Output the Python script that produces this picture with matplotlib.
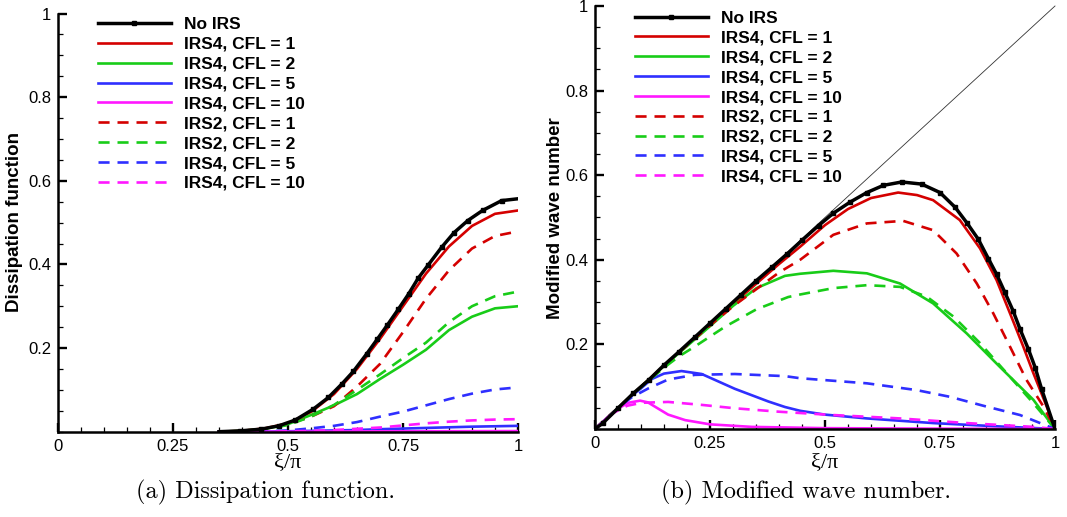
import matplotlib
matplotlib.use("Agg")
import matplotlib.pyplot as plt
from matplotlib.ticker import MultipleLocator, FixedLocator, FixedFormatter

plt.rcParams['font.family'] = ['Liberation Sans', 'DejaVu Sans']

# ---------------- Data: (a) Dissipation function ----------------
diss_noirs_x = [0.35, 0.396, 0.441, 0.48, 0.516, 0.555, 0.588, 0.617, 0.642, 0.671, 0.694,
                0.716, 0.740, 0.762, 0.783, 0.805, 0.834, 0.861, 0.891, 0.923, 0.9645, 1.0]
diss_noirs_y = [0.0, 0.002, 0.006, 0.014, 0.028, 0.054, 0.082, 0.114, 0.144, 0.186, 0.221,
                0.255, 0.293, 0.329, 0.367, 0.399, 0.441, 0.476, 0.505, 0.529, 0.5526, 0.557]

diss_x = [0.35, 0.4, 0.45, 0.5, 0.55, 0.6, 0.65, 0.7, 0.75, 0.8, 0.85, 0.9, 0.95, 1.0]
diss_irs4_cfl1 = [0.0, 0.002, 0.008, 0.020, 0.047, 0.090, 0.150, 0.222, 0.300, 0.378, 0.443, 0.492, 0.521, 0.529]
diss_irs4_cfl2 = [0.0, 0.002, 0.007, 0.018, 0.040, 0.063, 0.090, 0.126, 0.160, 0.196, 0.243, 0.275, 0.295, 0.300]
diss_irs4_cfl5 = [0.0, 0.0, 0.0, 0.001, 0.002, 0.003, 0.004, 0.006, 0.0075, 0.009, 0.0105, 0.012, 0.013, 0.014]
diss_irs4_cfl10 = [0.0, 0.0, 0.0, 0.0, 0.0003, 0.0005, 0.0007, 0.0009, 0.001, 0.0011, 0.0012, 0.0013, 0.0014, 0.0015]
diss_irs2_cfl1 = [0.0, 0.002, 0.007, 0.018, 0.036, 0.061, 0.108, 0.162, 0.238, 0.318, 0.386, 0.438, 0.468, 0.479]
diss_irs2_cfl2 = [0.0, 0.002, 0.006, 0.016, 0.036, 0.064, 0.100, 0.137, 0.176, 0.213, 0.262, 0.300, 0.324, 0.335]
diss_irs4d_cfl5 = [0.0, 0.0, 0.001, 0.003, 0.008, 0.014, 0.023, 0.036, 0.048, 0.063, 0.078, 0.091, 0.101, 0.106]
diss_irs4d_cfl10 = [0.0, 0.0, 0.0, 0.001, 0.002, 0.004, 0.007, 0.010, 0.015, 0.020, 0.024, 0.027, 0.029, 0.030]

# ---------------- Data: (b) Modified wave number ----------------
mwn_noirs_x = [0.0, 0.0167, 0.05, 0.083, 0.117, 0.15, 0.183, 0.217, 0.25, 0.284, 0.317, 0.351,
               0.384, 0.418, 0.451, 0.486, 0.518, 0.554, 0.591, 0.627, 0.667, 0.710, 0.75,
               0.783, 0.808, 0.833, 0.855, 0.873, 0.891, 0.909, 0.924, 0.942, 0.957, 0.971, 1.0]
mwn_noirs_y = [0.0, 0.0135, 0.049, 0.084, 0.116, 0.151, 0.183, 0.217, 0.25, 0.284, 0.317, 0.351,
               0.382, 0.414, 0.447, 0.481, 0.510, 0.536, 0.559, 0.576, 0.584, 0.579, 0.559,
               0.524, 0.488, 0.449, 0.403, 0.366, 0.323, 0.279, 0.236, 0.189, 0.145, 0.094, 0.0]

mwn_irs4_cfl1_x = [0.0, 0.1, 0.2, 0.3, 0.35, 0.4, 0.446, 0.5, 0.55, 0.6, 0.659, 0.7, 0.735,
                   0.793, 0.837, 0.873, 0.902, 0.931, 0.953, 0.982, 1.0]
mwn_irs4_cfl1_y = [0.0, 0.1, 0.199, 0.296, 0.343, 0.39, 0.431, 0.482, 0.520, 0.546, 0.559, 0.553, 0.541,
                   0.494, 0.427, 0.352, 0.274, 0.195, 0.132, 0.053, 0.0]

mwn_irs4_cfl2_x = [0.0, 0.1, 0.15, 0.2, 0.25, 0.3, 0.351, 0.413, 0.446, 0.518, 0.591, 0.663,
                   0.735, 0.808, 0.880, 0.953, 1.0]
mwn_irs4_cfl2_y = [0.0, 0.1, 0.149, 0.196, 0.243, 0.291, 0.333, 0.362, 0.367, 0.374, 0.368, 0.344,
                   0.297, 0.226, 0.147, 0.069, 0.0]

mwn_irs4_cfl5_x = [0.0, 0.08, 0.1, 0.123, 0.15, 0.188, 0.232, 0.304, 0.377, 0.413, 0.446, 0.5,
                   0.591, 0.735, 0.88, 1.0]
mwn_irs4_cfl5_y = [0.0, 0.079, 0.096, 0.118, 0.131, 0.137, 0.130, 0.095, 0.065, 0.052, 0.043, 0.034,
                   0.025, 0.014, 0.006, 0.0]

mwn_irs4_cfl10_x = [0.0, 0.03, 0.05, 0.072, 0.098, 0.115, 0.130, 0.159, 0.196, 0.25, 0.341, 0.5, 0.75, 1.0]
mwn_irs4_cfl10_y = [0.0, 0.03, 0.048, 0.062, 0.067, 0.063, 0.053, 0.034, 0.021, 0.011, 0.005, 0.002, 0.0008, 0.0]

mwn_irs2_cfl1_x = [0.0, 0.1, 0.2, 0.25, 0.3, 0.35, 0.4, 0.446, 0.518, 0.591, 0.670, 0.735, 0.786,
                   0.830, 0.866, 0.902, 0.938, 0.975, 1.0]
mwn_irs2_cfl1_y = [0.0, 0.1, 0.198, 0.245, 0.29, 0.33, 0.37, 0.40, 0.459, 0.486, 0.492, 0.470, 0.415,
                   0.344, 0.273, 0.195, 0.116, 0.053, 0.0]

mwn_irs2_cfl2_x = [0.0, 0.1, 0.15, 0.183, 0.217, 0.283, 0.351, 0.420, 0.446, 0.518, 0.591, 0.663,
                   0.721, 0.779, 0.837, 0.895, 0.953, 1.0]
mwn_irs2_cfl2_y = [0.0, 0.099, 0.145, 0.172, 0.195, 0.242, 0.283, 0.312, 0.318, 0.333, 0.340, 0.336,
                   0.313, 0.266, 0.203, 0.132, 0.061, 0.0]

mwn_irs4d_cfl5_x = [0.0, 0.06, 0.08, 0.116, 0.159, 0.217, 0.304, 0.413, 0.446, 0.591, 0.699, 0.772,
                    0.844, 0.924, 1.0]
mwn_irs4d_cfl5_y = [0.0, 0.059, 0.075, 0.096, 0.117, 0.128, 0.130, 0.125, 0.120, 0.108, 0.092, 0.076,
                    0.055, 0.033, 0.0]

mwn_irs4d_cfl10_x = [0.0, 0.04, 0.07, 0.1015, 0.159, 0.232, 0.304, 0.398, 0.518, 0.663, 0.808, 0.953, 1.0]
mwn_irs4d_cfl10_y = [0.0, 0.038, 0.055, 0.062, 0.064, 0.057, 0.049, 0.041, 0.033, 0.025, 0.014, 0.005, 0.0]

exact_x = [0.0, 1.0]
exact_y = [0.0, 1.0]

labels = ['No IRS', 'IRS4, CFL = 1', 'IRS4, CFL = 2', 'IRS4, CFL = 5', 'IRS4, CFL = 10',
          'IRS2, CFL = 1', 'IRS2, CFL = 2', 'IRS4, CFL = 5', 'IRS4, CFL = 10']
x_ticks = [0, 0.25, 0.5, 0.75, 1]
x_ticklabels = ['0', '0.25', '0.5', '0.75', '1']
y_ticks = [0.2, 0.4, 0.6, 0.8, 1.0]
y_ticklabels = ['0.2', '0.4', '0.6', '0.8', '1']

RED = '#d40000'
GREEN = '#18cc18'
BLUE = '#2f2fff'
MAG = '#ff18ff'
LW = 1.9
DASH = (4.2, 3.0)

W, H = 1067, 517
fig = plt.figure(figsize=(W / 100, H / 100), dpi=100)
ax1 = fig.add_axes([58 / W, 1 - 431.7 / H, 460 / W, 418.2 / H])
ax2 = fig.add_axes([595 / W, 1 - 429 / H, 460 / W, 423 / H])


def style(ax):
    ax.set_xlim(0, 1)
    ax.set_ylim(0, 1)
    for s in ['top', 'right']:
        ax.spines[s].set_visible(False)
    for s in ['left', 'bottom']:
        ax.spines[s].set_linewidth(1.8)
        ax.spines[s].set_zorder(5)
    ax.xaxis.set_major_locator(FixedLocator(x_ticks))
    ax.xaxis.set_major_formatter(FixedFormatter(x_ticklabels))
    ax.yaxis.set_major_locator(FixedLocator(y_ticks))
    ax.yaxis.set_major_formatter(FixedFormatter(y_ticklabels))
    ax.xaxis.set_minor_locator(MultipleLocator(0.05))
    ax.yaxis.set_minor_locator(MultipleLocator(0.05))
    ax.tick_params(which='major', direction='in', length=6.5, width=1.7, labelsize=12,
                   pad=5, top=False, right=False)
    ax.tick_params(which='minor', direction='in', length=3.6, width=0.9, top=False, right=False)
    ax.tick_params(axis='x', which='major', pad=5)
    ax.patch.set_alpha(0)


def draw(ax, nx, ny, curves):
    handles = []
    h, = ax.plot(nx, ny, color='black', lw=2.5, marker='s', markersize=3.2,
                 markevery=list(range(1, len(nx) - 1)), zorder=4)
    handles.append(h)
    for (x, y, c, dashed) in curves:
        if dashed:
            h, = ax.plot(x, y, color=c, lw=LW, dashes=DASH, zorder=3)
        else:
            h, = ax.plot(x, y, color=c, lw=LW, zorder=3)
        handles.append(h)
    return handles


style(ax1)
style(ax2)

h1 = draw(ax1, diss_noirs_x, diss_noirs_y, [
    (diss_x, diss_irs4_cfl1, RED, False),
    (diss_x, diss_irs4_cfl2, GREEN, False),
    (diss_x, diss_irs4_cfl5, BLUE, False),
    (diss_x, diss_irs4_cfl10, MAG, False),
    (diss_x, diss_irs2_cfl1, RED, True),
    (diss_x, diss_irs2_cfl2, GREEN, True),
    (diss_x, diss_irs4d_cfl5, BLUE, True),
    (diss_x, diss_irs4d_cfl10, MAG, True),
])

ax2.plot(exact_x, exact_y, color='#333333', lw=0.6, zorder=2, clip_on=False)
h2 = draw(ax2, mwn_noirs_x, mwn_noirs_y, [
    (mwn_irs4_cfl1_x, mwn_irs4_cfl1_y, RED, False),
    (mwn_irs4_cfl2_x, mwn_irs4_cfl2_y, GREEN, False),
    (mwn_irs4_cfl5_x, mwn_irs4_cfl5_y, BLUE, False),
    (mwn_irs4_cfl10_x, mwn_irs4_cfl10_y, MAG, False),
    (mwn_irs2_cfl1_x, mwn_irs2_cfl1_y, RED, True),
    (mwn_irs2_cfl2_x, mwn_irs2_cfl2_y, GREEN, True),
    (mwn_irs4d_cfl5_x, mwn_irs4d_cfl5_y, BLUE, True),
    (mwn_irs4d_cfl10_x, mwn_irs4d_cfl10_y, MAG, True),
])

leg_kw = dict(loc='upper left', frameon=False, borderpad=0, borderaxespad=0, numpoints=1,
              handlelength=4.2, handletextpad=0.75, labelspacing=0.27,
              prop={'family': 'Liberation Sans', 'weight': 'bold', 'size': 12.5})
fig.legend(h1, labels, bbox_to_anchor=(98 / W, 1 - 17 / H), **leg_kw)
fig.legend(h2, labels, bbox_to_anchor=(635 / W, 1 - 10.5 / H), **leg_kw)

# axis labels
fig.text(15 / W, 1 - 222 / H, 'Dissipation function', rotation=90, fontsize=13.5,
         fontweight='bold', ha='center', va='center')
fig.text(556 / W, 1 - 218 / H, 'Modified wave number', rotation=90, fontsize=13.5,
         fontweight='bold', ha='center', va='center')
fig.text(288 / W, 1 - 463 / H, 'ξ/π', fontsize=16, ha='center', va='center',
         family=['Liberation Serif', 'DejaVu Serif'])
fig.text(825 / W, 1 - 463 / H, 'ξ/π', fontsize=16, ha='center', va='center',
         family=['Liberation Serif', 'DejaVu Serif'])

# captions
fig.text(266 / W, 1 - 492 / H, '(a) Dissipation function.', fontsize=17.5, ha='center',
         va='center', family=['cmr10', 'DejaVu Serif'])
fig.text(806 / W, 1 - 492 / H, '(b) Modified wave number.', fontsize=17.5, ha='center',
         va='center', family=['cmr10', 'DejaVu Serif'])

fig.savefig('out.png', dpi=100)
